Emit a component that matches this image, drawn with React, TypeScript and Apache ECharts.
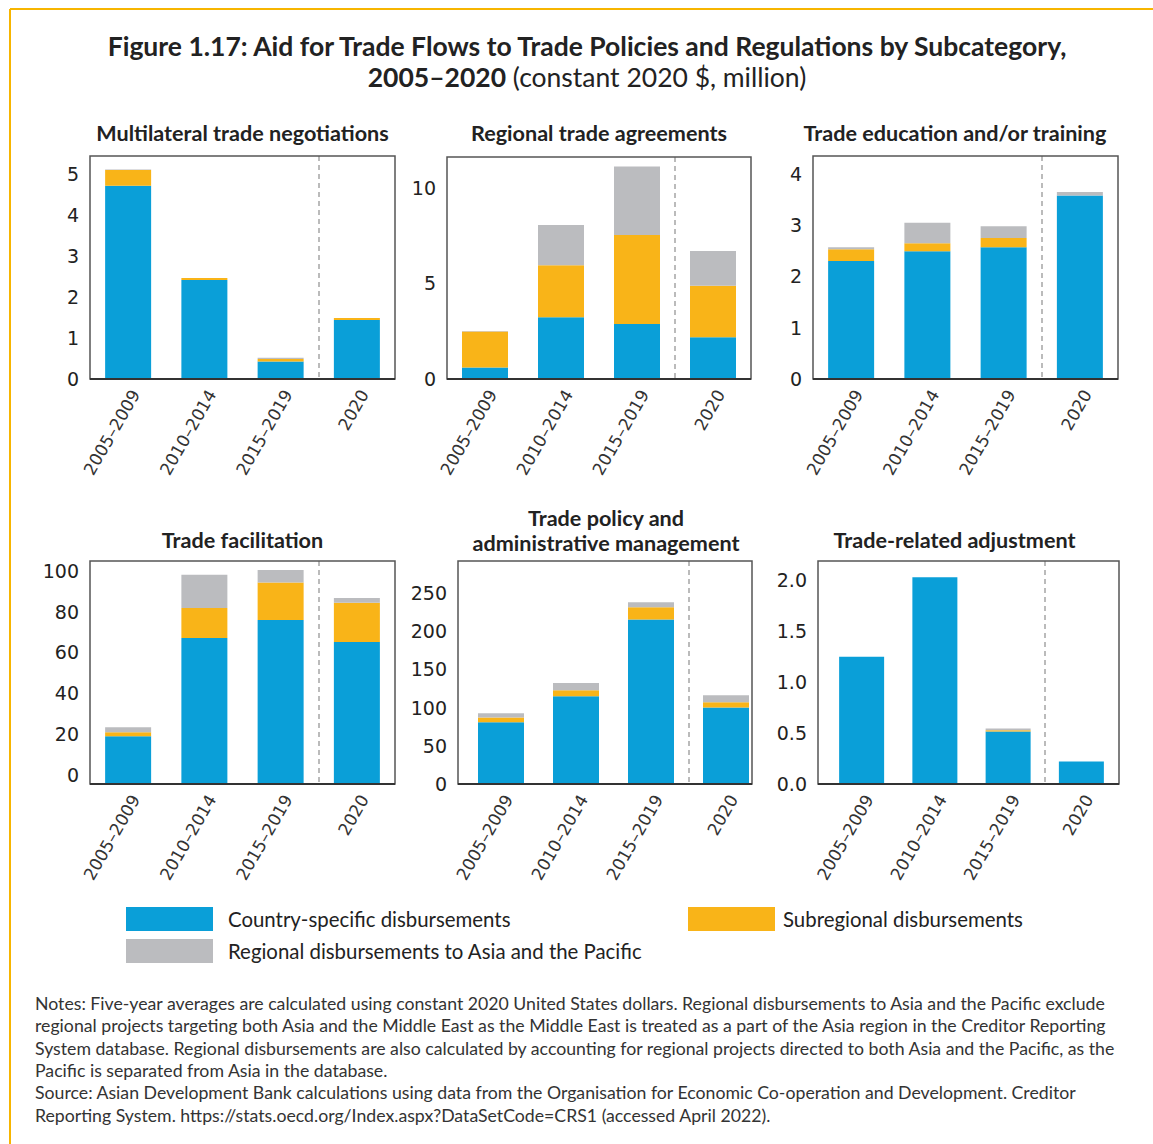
import React, { useEffect, useRef } from "react";
import * as echarts from "echarts";

const categories = ["2005–2009", "2010–2014", "2015–2019", "2020"];

const panelTitles = [
  "Multilateral trade negotiations",
  "Regional trade agreements",
  "Trade education and/or training",
  "Trade facilitation",
  "Trade policy and\nadministrative management",
  "Trade-related adjustment",
];

const seriesNames = [
  "Country-specific disbursements",
  "Subregional disbursements",
  "Regional disbursements to Asia and the Pacific",
];

const countrySpecific = [
  [4.72, 2.42, 0.43, 1.44],
  [0.6, 3.23, 2.88, 2.18],
  [2.3, 2.49, 2.57, 3.58],
  [23.5, 71.7, 80.5, 69.7],
  [80.7, 114.8, 215.4, 100.3],
  [1.25, 2.03, 0.516, 0.22],
];

const subregional = [
  [0.39, 0.05, 0.06, 0.05],
  [1.88, 2.72, 4.64, 2.69],
  [0.23, 0.16, 0.18, 0],
  [1.9, 14.7, 18.4, 19.3],
  [6.5, 7.8, 16.1, 6.6],
  [0, 0, 0.012, 0],
];

const regionalAsiaPacific = [
  [0.01, 0, 0.03, 0],
  [0.03, 2.1, 3.58, 1.82],
  [0.04, 0.4, 0.23, 0.07],
  [2.5, 16.3, 6.2, 2.3],
  [5.3, 9.6, 6.6, 9.2],
  [0, 0, 0.018, 0],
];

const yMax = [5.45, 11.6, 4.35, 109.5, 292, 2.19];
const yInterval = [1, 5, 1, 20, 50, 0.5];

const notesLines = [
  "Notes: Five-year averages are calculated using constant 2020 United States dollars. Regional disbursements to Asia and the Pacific exclude",
  "regional projects targeting both Asia and the Middle East as the Middle East is treated as a part of the Asia region in the Creditor Reporting",
  "System database. Regional disbursements are also calculated by accounting for regional projects directed to both Asia and the Pacific, as the",
  "Pacific is separated from Asia in the database.",
  "Source: Asian Development Bank calculations using data from the Organisation for Economic Co-operation and Development. Creditor",
  "Reporting System. https://stats.oecd.org/Index.aspx?DataSetCode=CRS1 (accessed April 2022).",
];

const COLORS = ["#0A9FD8", "#F9B418", "#BBBCBF"];
const FONT_T = "Lato, 'Noto Sans', sans-serif";
const FONT_AX = "'DejaVu Sans', Verdana, sans-serif";

// frame boxes drawn around each panel
const boxes = [
  { left: 90, top: 156, width: 305, height: 223 },
  { left: 447, top: 157, width: 304, height: 222 },
  { left: 813, top: 156, width: 305, height: 223 },
  { left: 90, top: 561, width: 305, height: 223 },
  { left: 458, top: 561, width: 294, height: 223 },
  { left: 818, top: 561, width: 301, height: 223 },
];

// plotting areas (category bands)
const plots = [
  { left: 90, top: 156, width: 305, height: 223 },
  { left: 447, top: 157, width: 304, height: 222 },
  { left: 813, top: 156, width: 305, height: 223 },
  { left: 90, top: 561, width: 305, height: 223 },
  { left: 463.5, top: 561, width: 300, height: 223 },
  { left: 825, top: 561, width: 293, height: 223 },
];

const titlePos = [
  { x: 242.5, y: 133 },
  { x: 599, y: 133 },
  { x: 955, y: 133 },
  { x: 242.5, y: 540 },
  { x: 606, y: 530.5 },
  { x: 954.5, y: 540 },
];

export default function App() {
  const ref = useRef<HTMLDivElement>(null);
  useEffect(() => {
    document.body.style.margin = "0";
    const chart = echarts.init(ref.current as HTMLDivElement, null, { renderer: "svg" });

    const grid = plots.map((g) => ({ ...g, show: false, containLabel: false }));

    const xAxis: any[] = plots.map((_, i) => ({
      type: "category",
      gridIndex: i,
      data: categories,
      axisTick: { show: false },
      axisLine: { show: false },
      axisLabel: {
        rotate: 60,
        fontSize: 17,
        fontFamily: FONT_AX,
        color: "#333",
        margin: 8,
        interval: 0,
        verticalAlign: "top",
      },
      splitLine: { show: false },
    }));
    // helper value axes that place the dashed divider before the last period
    plots.forEach((_, i) => {
      xAxis.push({
        type: "value",
        gridIndex: i,
        position: "top",
        min: 0,
        max: categories.length,
        interval: categories.length - 1,
        axisLine: { show: false },
        axisTick: { show: false },
        axisLabel: { show: false },
        splitLine: {
          show: true,
          showMinLine: false,
          showMaxLine: false,
          lineStyle: { type: [5, 4], color: "#A5A5A5", width: 1.5 },
        },
      });
    });

    const yAxis = plots.map((p, i) => ({
      type: "value",
      gridIndex: i,
      min: 0,
      max: yMax[i],
      interval: yInterval[i],
      axisLine: { show: false },
      axisTick: { show: false },
      splitLine: { show: false },
      axisLabel: {
        showMaxLabel: false,
        fontSize: 19,
        fontFamily: FONT_AX,
        color: "#222",
        margin: 11 + (p.left - boxes[i].left),
        verticalAlign: i === 3 ? "bottom" : "middle",
        formatter: (v: number) => (i === 5 ? v.toFixed(1) : String(v)),
      },
    }));

    const dataSets = [countrySpecific, subregional, regionalAsiaPacific];
    const series: any[] = [];
    plots.forEach((_, i) => {
      dataSets.forEach((ds, k) => {
        series.push({
          type: "bar",
          name: seriesNames[k],
          xAxisIndex: i,
          yAxisIndex: i,
          stack: "s" + i,
          data: ds[i],
          barWidth: i === 5 ? 45 : 46,
          itemStyle: { color: COLORS[k] },
        });
      });
    });

    const graphic: any[] = [
      {
        type: "line",
        shape: { x1: 10, y1: 9, x2: 1153, y2: 9 },
        style: { stroke: "#F7B500", lineWidth: 2 },
      },
      {
        type: "line",
        shape: { x1: 10, y1: 9, x2: 10, y2: 1144 },
        style: { stroke: "#F7B500", lineWidth: 2 },
      },
      ...boxes.map((b) => ({
        type: "rect",
        z: 10,
        silent: true,
        shape: { x: b.left, y: b.top, width: b.width, height: b.height },
        style: { fill: "none", stroke: "#555", lineWidth: 1.5 },
      })),
      ...boxes.map((b) => ({
        type: "line",
        z: 11,
        silent: true,
        shape: { x1: b.left, y1: b.top + b.height, x2: b.left + b.width, y2: b.top + b.height },
        style: { stroke: "#333", lineWidth: 2 },
      })),
      {
        type: "text",
        x: 587,
        y: 46,
        style: {
          text: "Figure 1.17: Aid for Trade Flows to Trade Policies and Regulations by Subcategory,",
          font: `bold 26.5px ${FONT_T}`,
          fill: "#222",
          textAlign: "center",
          textVerticalAlign: "middle",
          align: "center",
          verticalAlign: "middle",
        },
      },
      {
        type: "text",
        x: 587,
        y: 77,
        style: {
          text: "{b|2005–2020}{r| (constant 2020 $, million)}",
          rich: {
            b: { fill: "#222", fontSize: 26.5, fontWeight: "bold", fontFamily: FONT_T },
            r: { fill: "#222", fontSize: 26.5, fontFamily: FONT_T },
          },
          textAlign: "center",
          textVerticalAlign: "middle",
          align: "center",
          verticalAlign: "middle",
        },
      },
      ...panelTitles.map((t, i) => ({
        type: "text",
        x: titlePos[i].x,
        y: titlePos[i].y,
        style: {
          text: t,
          font: `bold 21.6px ${FONT_T}`,
          lineHeight: 25,
          fill: "#222",
          textAlign: "center",
          textVerticalAlign: "middle",
          align: "center",
          verticalAlign: "middle",
        },
      })),
      {
        type: "text",
        x: 35,
        y: 992,
        style: {
          text: notesLines.join("\n"),
          font: `17.7px ${FONT_T}`,
          lineHeight: 22.4,
          fill: "#333",
          textAlign: "left",
          textVerticalAlign: "top",
          align: "left",
          verticalAlign: "top",
        },
      },
    ];

    const legendCommon = {
      orient: "vertical",
      itemWidth: 87,
      itemHeight: 24,
      itemGap: 8,
      icon: "rect",
      padding: 0,
      selectedMode: false,
    };
    const legendText = (pad: number) => ({
      fontSize: 20.4,
      fontFamily: FONT_T,
      color: "#222",
      padding: [0, 0, 0, pad],
    });

    chart.setOption({
      animation: false,
      backgroundColor: "#fff",
      grid,
      xAxis,
      yAxis,
      series,
      graphic,
      legend: [
        { ...legendCommon, left: 126, top: 907, textStyle: legendText(10), data: [seriesNames[0], seriesNames[2]] },
        { ...legendCommon, left: 688, top: 907, textStyle: legendText(3), data: [seriesNames[1]] },
      ],
    });
    return () => chart.dispose();
  }, []);
  return <div ref={ref} style={{ width: 1153, height: 1144 }} />;
}
